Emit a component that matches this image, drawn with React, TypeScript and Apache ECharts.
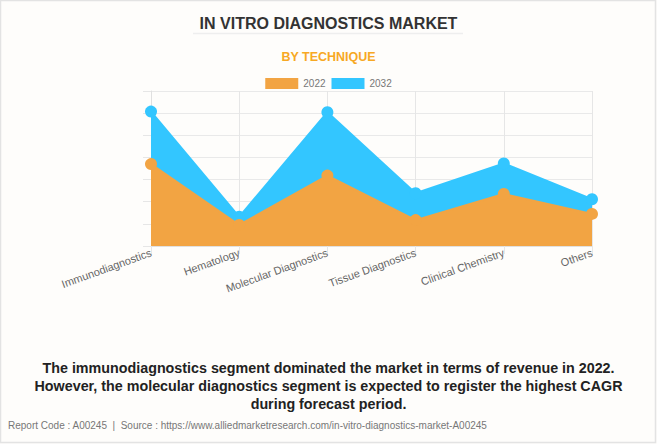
import React, { useEffect, useRef } from "react";
import * as echarts from "echarts";

const categories = [
  "Immunodiagnostics",
  "Hematology",
  "Molecular Diagnostics",
  "Tissue Diagnostics",
  "Clinical Chemistry",
  "Others",
];
const values2022 = [3.7, 0.95, 3.18, 1.17, 2.35, 1.45];
const values2032 = [6.07, 1.32, 6.04, 2.38, 3.73, 2.11];
const seriesNames = ["2022", "2032"];

const ORANGE = "#F2A443";
const BLUE = "#33C6FF";

export default function App() {
  const ref = useRef<HTMLDivElement>(null);
  useEffect(() => {
    if (!ref.current) return;
    const chart = echarts.init(ref.current, undefined, { renderer: "svg" });
    chart.setOption({
      animation: false,
      backgroundColor: "#FEFDFB",
      textStyle: { fontFamily: "Arial, Liberation Sans, sans-serif" },
      title: [
        {
          text: "IN VITRO DIAGNOSTICS MARKET",
          left: "center",
          top: 10,
          textStyle: {
            fontSize: 16,
            fontWeight: "bold",
            color: "#333333",
            fontFamily: "Arial, Liberation Sans, sans-serif",
          },
        },
        {
          text: "BY TECHNIQUE",
          left: "center",
          top: 45,
          textStyle: {
            fontSize: 12.5,
            fontWeight: "bold",
            color: "#F7A823",
            fontFamily: "Arial, Liberation Sans, sans-serif",
          },
        },
      ],
      graphic: [
        {
          type: "rect",
          shape: { x: 0.5, y: 0.5, width: 655, height: 442 },
          style: { fill: "none", stroke: "#E3E3E3", lineWidth: 1.5 },
          silent: true,
        },
        {
          type: "line",
          shape: { x1: 193, y1: 33.5, x2: 463, y2: 33.5 },
          style: { stroke: "#EEEEEE", lineWidth: 1.5 },
          silent: true,
        },
        {
          type: "text",
          x: 328.5,
          y: 359,
          style: {
            text:
              "The immunodiagnostics segment dominated the market in terms of revenue in 2022.\nHowever, the molecular diagnostics segment is expected to register the highest CAGR\nduring forecast period.",
            fill: "#222222",
            font: "bold 14.3px Arial, Liberation Sans, sans-serif",
            lineHeight: 18,
            textAlign: "center",
            align: "center",
          },
        },
        {
          type: "text",
          x: 8,
          y: 420,
          style: {
            text:
              "Report Code : A00245  |  Source : https://www.alliedmarketresearch.com/in-vitro-diagnostics-market-A00245",
            fill: "#777777",
            font: "10px Arial, Liberation Sans, sans-serif",
          },
        },
      ],
      legend: {
        top: 73,
        left: "center",
        itemWidth: 33,
        itemHeight: 11,
        itemGap: 6,
        icon: "rect",
        data: seriesNames,
        textStyle: { fontSize: 10, color: "#777777" },
      },
      grid: { left: 151, right: 65, top: 91, bottom: 198 },
      xAxis: {
        type: "category",
        data: categories,
        boundaryGap: false,
        axisLine: { show: true, lineStyle: { color: "#E0E0E0" } },
        axisTick: { show: true, length: 8, lineStyle: { color: "#E6E6E6" } },
        splitLine: { show: true, lineStyle: { color: "#E6E6E6" } },
        axisLabel: {
          rotate: 20,
          fontSize: 11,
          color: "#666666",
          margin: 6,
          interval: 0,
        },
      },
      yAxis: {
        type: "value",
        min: 0,
        max: 7,
        interval: 1,
        axisLine: { show: true, lineStyle: { color: "#E0E0E0" } },
        axisTick: { show: true, length: 8, lineStyle: { color: "#E6E6E6" } },
        splitLine: { show: true, lineStyle: { color: "#E9E9E9" } },
        axisLabel: { show: false },
      },
      series: [
        {
          name: "2032",
          type: "line",
          data: values2032,
          symbol: "circle",
          symbolSize: 12,
          showSymbol: true,
          itemStyle: { color: BLUE },
          lineStyle: { color: BLUE, width: 2 },
          areaStyle: { color: BLUE, opacity: 1 },
          z: 2,
        },
        {
          name: "2022",
          type: "line",
          data: values2022,
          symbol: "circle",
          symbolSize: 12,
          showSymbol: true,
          itemStyle: { color: ORANGE },
          lineStyle: { color: ORANGE, width: 2 },
          areaStyle: { color: ORANGE, opacity: 1 },
          z: 3,
        },
      ],
    });
    return () => chart.dispose();
  }, []);
  return (
    <div
      ref={ref}
      style={{ position: "fixed", left: 0, top: 0, width: 657, height: 444 }}
    />
  );
}
